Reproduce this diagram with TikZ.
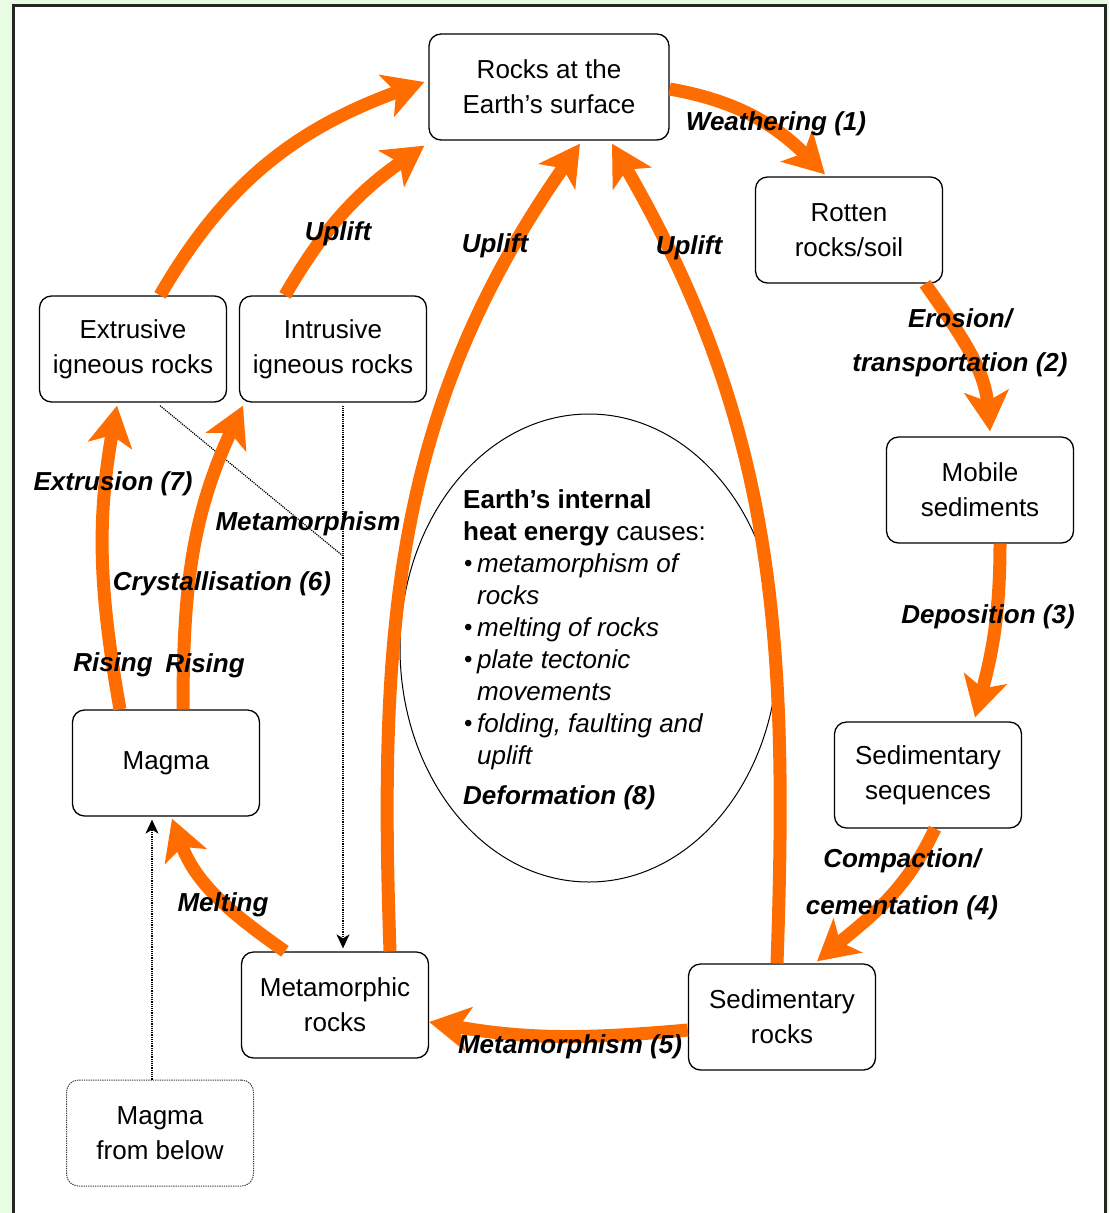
\documentclass[tikz,border=0pt]{standalone}
\usepackage{fontspec}
\setmainfont{Liberation Sans}
\usetikzlibrary{arrows.meta,shapes.geometric}
\definecolor{bggreen}{RGB}{232,252,228}
\definecolor{orng}{RGB}{255,108,0}
\newcommand\bul{\makebox[14pt][l]{\hspace*{1pt}\fontsize{24}{24}\selectfont\raisebox{1pt}{•}}}
\tikzset{
 rbox/.style={draw, rounded corners=12pt, line width=1.3pt, fill=white, minimum width=187pt, minimum height=106pt, align=center, font=\fontsize{26}{35}\selectfont, inner sep=2pt},
 flow/.style={draw=orng, line width=13pt, -{Stealth[length=40pt,width=44pt,inset=10pt]}},
 lbl/.style={font=\fontsize{26}{30}\selectfont\bfseries\itshape, inner sep=0pt},
 dotln/.style={densely dotted, line width=1.2pt},
 dottip/.style={-{Stealth[length=14pt,width=13pt,inset=4pt]}}
}
\begin{document}
\begin{tikzpicture}[x=1pt,y=1pt]
\useasboundingbox (0,0) rectangle (1109,-1213);
\fill[bggreen] (0,0) rectangle (1109,-1213);
\fill[white] (13,-5) rectangle (1105,-1213);
\draw[line width=3pt, black!85] (13,-1213) -- (13,-5) -- (1105,-5) -- (1105,-1213);

% ellipse
\node[draw, ellipse, line width=1pt, minimum width=378pt, minimum height=468pt, inner sep=0pt] (heat) at (589,-648) {};

% boxes
\node[rbox, minimum width=240pt] (surf) at (549,-87) {Rocks at the\\Earth’s surface};
\node[rbox] (rot) at (849,-230) {Rotten\\rocks/soil};
\node[rbox] (mob) at (980,-490) {Mobile\\sediments};
\node[rbox] (seq) at (928,-775) {Sedimentary\\sequences};
\node[rbox] (sed) at (782,-1017) {Sedimentary\\rocks};
\node[rbox] (met) at (335,-1005) {Metamorphic\\rocks};
\node[rbox] (mag) at (166,-763) {Magma};
\node[rbox, densely dotted, line width=1pt, draw=black!75] (below) at (160,-1133) {Magma\\from below};
\node[rbox] (ext) at (133,-349) {Extrusive\\igneous rocks};
\node[rbox] (int) at (333,-349) {Intrusive\\igneous rocks};

% dotted connectors
\coordinate (j) at (343,-556);
\draw[dotln] ([xshift=27pt,yshift=-3pt]ext.south) -- (j);
\draw[dotln, dottip] ([yshift=-3pt]int.south -| j) -- ([yshift=3pt]met.north -| j);
\draw[dotln, dottip] ([xshift=-8pt]below.north) -- ([xshift=-8pt,yshift=-3pt]below.north |- mag.south);

% orange flows
\draw[flow] ([yshift=-2pt]surf.east) to[out=-10,in=135] ([xshift=-24pt,yshift=2pt]rot.north);
\draw[flow] ([xshift=76pt]rot.south) to[out=-55,in=95] ([xshift=10pt,yshift=5pt]mob.north);
\draw[flow] ([xshift=20pt]mob.south) to[out=-90,in=75] ([xshift=47pt,yshift=4pt]seq.north);
\draw[flow] ([xshift=7pt]seq.south) to[out=-115,in=40] ([xshift=35pt,yshift=2pt]sed.north);
\draw[flow] ([yshift=-13pt]sed.west) to[out=185,in=-10] ([yshift=-17pt]met.east);
\draw[flow] ([xshift=-50pt]met.north) to[out=145,in=-70] ([xshift=6pt,yshift=-2pt]mag.south);
\draw[flow] ([xshift=-46pt]mag.north) to[out=100,in=-100] ([xshift=-16pt,yshift=-3pt]ext.south);
\draw[flow] ([xshift=17pt]mag.north) to[out=90,in=-115] ([xshift=-90pt,yshift=-3pt]int.south);
\draw[flow] ([xshift=27pt]ext.north) to[out=60,in=200] ([xshift=-4pt,yshift=5pt]surf.west);
\draw[flow] ([xshift=-48pt]int.north) to[out=60,in=215] ([xshift=-4pt,yshift=-5pt]surf.south west);
\draw[flow] ([xshift=55pt]met.north) to[out=92,in=-125] ([xshift=31pt,yshift=-3pt]surf.south);
\draw[flow] ([xshift=-5pt]sed.north) to[out=88,in=-60] ([xshift=63pt,yshift=-3pt]surf.south);

% labels
\node[lbl] at (776,-124) {Weathering (1)};
\node[lbl] at (960,-318) {Erosion/};
\node[lbl] at (960,-365) {transportation (2)};
\node[lbl] at (988,-617) {Deposition (3)};
\node[lbl] at (902,-861) {Compaction/};
\node[lbl] at (902,-908) {cementation (4)};
\node[lbl] at (570,-1047) {Metamorphism (5)};
\node[lbl] at (223,-905) {Melting};
\node[lbl] at (113,-665) {Rising};
\node[lbl] at (205,-666) {Rising};
\node[lbl] at (113,-484) {Extrusion (7)};
\node[lbl] at (222,-584) {Crystallisation (6)};
\node[lbl] at (308,-524) {Metamorphism};
\node[lbl] at (338,-234) {Uplift};
\node[lbl] at (495,-246) {Uplift};
\node[lbl] at (689,-248) {Uplift};

% ellipse text
\node[anchor=north west, align=left, inner sep=0pt, font=\fontsize{26}{32}\selectfont] (heattxt) at (463,-489)
 {\textbf{Earth’s internal}\\
  \textbf{heat energy} causes:\\
  \bul\textit{metamorphism of}\\
  \hspace*{14pt}\textit{rocks}\\
  \bul\textit{melting of rocks}\\
  \bul\textit{plate tectonic}\\
  \hspace*{14pt}\textit{movements}\\
  \bul\textit{folding, faulting and}\\
  \hspace*{14pt}\textit{uplift}\\[8pt]
  \textbf{\textit{Deformation (8)}}};
\end{tikzpicture}
\end{document}
